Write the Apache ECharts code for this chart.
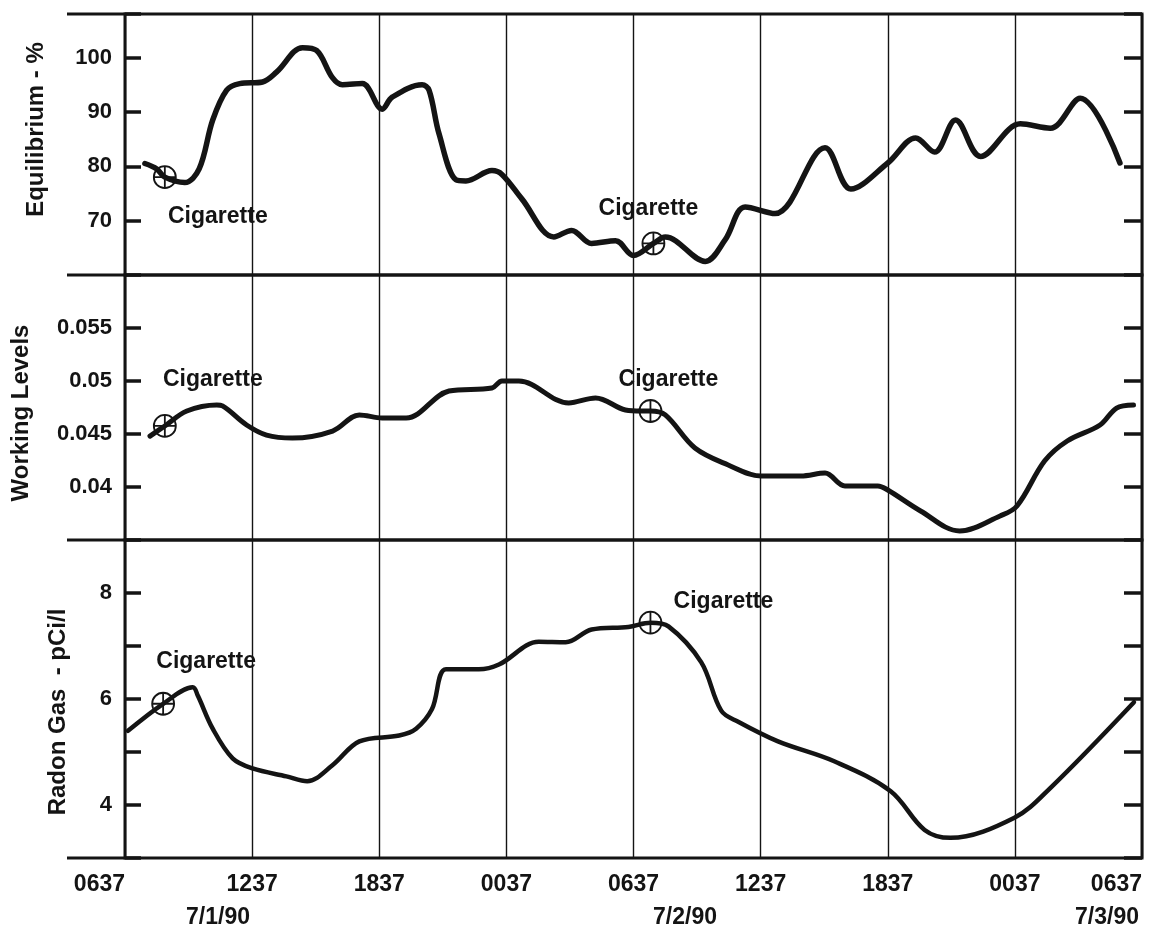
<!DOCTYPE html>
<html>
<head>
<meta charset="utf-8">
<script src="https://cdn.jsdelivr.net/npm/echarts@6/dist/echarts.min.js"></script>
<style>
html,body{margin:0;padding:0;background:#fff;}
#chart{width:1176px;height:939px;}
</style>
</head>
<body>
<div id="chart"></div>
<script>
// ---- Data (hours since 0637 on 7/1/90) ----
const xTickLabels = ['0637','1237','1837','0037','0637','1237','1837','0037','0637'];
const dateLabels = ['7/1/90','7/2/90','7/3/90'];
const eqTickLabels = ['70','80','90','100'];
const wlTickLabels = ['0.04','0.045','0.05','0.055'];
const rnTickLabels = ['4','6','8'];

const eqData = [
  [0.94,80.5],[1.5,79.5],[1.88,78],[2.82,77],[3.5,79.5],[4.14,88.5],[4.8,94],[5.41,95.2],
  [6.49,95.5],[7.15,97.3],[8.38,101.8],[9.04,101.3],[9.79,96.3],[10.26,95],[11.2,95.2],
  [12.14,90.5],[12.61,92.7],[14.02,95],[14.35,94],[14.82,86],[15.62,77.5],[16.09,77.3],
  [17.32,79.2],[17.79,78.5],[18.73,74],[20.24,67],[21.08,68.2],[22.02,65.8],[23.15,66.3],
  [24.0,63.6],[24.94,65.8],[25.5,67],[27.39,62.5],[28.33,66.5],[29.27,72.5],[30.68,71.3],
  [33.04,83.4],[34.26,75.8],[36.0,80.6],[37.32,85.2],[38.21,82.6],[39.2,88.5],[40.38,81.8],
  [42.26,87.8],[43.67,87],[45.08,92.5],[46.96,80.6]
];
const wlData = [
  [1.18,0.0448],[1.88,0.04576],[2.92,0.04717],[4.33,0.04774],[4.6,0.04765],[5.74,0.04585],
  [6.68,0.0449],[7.9,0.04462],[9.8,0.04528],[11.06,0.0468],[12.14,0.04651],[13.27,0.04651],
  [15.29,0.04906],[17.32,0.04934],[17.79,0.05],[18.59,0.05],[20.94,0.04793],[22.21,0.0484],
  [23.62,0.04727],[24.38,0.04717],[24.8,0.04717],[25.5,0.0468],[26.9,0.04368],[28.47,0.04208],
  [30.02,0.04104],[31.9,0.04104],[33.04,0.04132],[33.98,0.0401],[35.53,0.0401],[36.0,0.03972],
  [37.55,0.03774],[39.39,0.03585],[41.3,0.03727],[42.1,0.03821],[43.4,0.04245],[44.47,0.04434],
  [46.02,0.04585],[46.8,0.04745],[47.6,0.04774]
];
const rnData = [
  [0.14,5.4],[1.8,5.91],[3.2,6.22],[3.44,6.06],[4.14,5.44],[5.08,4.88],[6.02,4.69],[7.62,4.54],
  [8.6,4.45],[9.79,4.75],[11.06,5.2],[12.94,5.31],[13.74,5.44],[14.49,5.81],[15.15,6.56],
  [16.7,6.56],[17.65,6.65],[19.53,7.08],[20.8,7.07],[22.02,7.31],[23.76,7.36],[24.8,7.44],
  [25.65,7.37],[27.2,6.69],[28.14,5.78],[28.94,5.57],[30.82,5.2],[33.5,4.82],[36.14,4.26],
  [37.74,3.53],[38.96,3.38],[41.98,3.76],[43.67,4.32],[47.62,5.94]
];
const eqCig = [[1.88,78],[24.94,65.8]];
const wlCig = [[1.88,0.04576],[24.8,0.04717]];
const rnCig = [[1.8,5.91],[24.8,7.44]];

// ---- Layout / styles ----
const INK = '#141414';
const FONT = '"Liberation Sans", Arial, Helvetica, sans-serif';
const L = 125, R = 34;
const grids = [
  {left:L, right:R, top:14, height:261},
  {left:L, right:R, top:275, height:265},
  {left:L, right:R, top:540, height:318}
];
const cigLabelOffsets = [
  [[53,40],[-5,-35]],
  [[48,-46],[18,-31]],
  [[43,-42],[73,-21]]
];
const cigSymbol = 'path://M12,1A11,11,0,0,1,12,23A11,11,0,0,1,12,1ZM1,12L23,12M12,1L12,23';

function matchLabel(list, v){
  for (const s of list){ if (Math.abs(parseFloat(s) - v) < 1e-9) return s; }
  return '';
}

function xAxisFor(i){
  return {
    type:'value', gridIndex:i, min:0, max:48, interval:6,
    axisLine:{show:false}, axisTick:{show:false},
    splitLine:{show:true, lineStyle:{color:INK, width:1.4}},
    axisLabel: i===2 ? {
      show:true, margin:15, color:INK, fontFamily:FONT, fontWeight:'bold', fontSize:23,
      alignMinLabel:'right', alignMaxLabel:'right',
      formatter:(v)=> xTickLabels[Math.round(v/6)] || ''
    } : {show:false}
  };
}
function yAxisPair(i, min, max, interval, labels, name, nameGap, namePad){
  const common = {type:'value', gridIndex:i, min:min, max:max, interval:interval,
    axisLine:{show:false}, splitLine:{show:false}};
  return [
    Object.assign({}, common, {
      position:'left',
      axisTick:{show:true, inside:true, length:16, lineStyle:{color:INK, width:3.5}},
      axisLabel:{show:true, margin:13, color:INK, fontFamily:FONT, fontWeight:'bold', fontSize:22,
        formatter:(v)=>matchLabel(labels, v)},
      name:name, nameLocation:'middle', nameGap:nameGap, nameRotate:90,
      nameTextStyle:{color:INK, fontFamily:FONT, fontWeight:'bold', fontSize:24, padding:namePad}
    }),
    Object.assign({}, common, {
      position:'right',
      axisTick:{show:true, inside:true, length:18, lineStyle:{color:INK, width:3.5}},
      axisLabel:{show:false}
    })
  ];
}

const yAxes = [].concat(
  yAxisPair(0, 60, 108, 10, eqTickLabels, 'Equilibrium - %', 77, [0,0,0,30]),
  yAxisPair(1, 0.035, 0.06, 0.005, wlTickLabels, 'Working Levels', 92, [0,11,0,0]),
  yAxisPair(2, 3, 9, 1, rnTickLabels, 'Radon Gas  - pCi/l', 55, [0,26,0,0])
);

function lineSeries(i, data, width){
  return {type:'line', xAxisIndex:i, yAxisIndex:i*2, data:data, smooth:0.35,
    showSymbol:false, symbol:'none', clip:false,
    lineStyle:{color:INK, width:width, cap:'round', join:'round'}, z:3};
}
function cigSeries(i, pts){
  return {type:'scatter', xAxisIndex:i, yAxisIndex:i*2, symbol:cigSymbol, symbolSize:22,
    itemStyle:{color:'rgba(0,0,0,0)', borderColor:INK, borderWidth:1.8, opacity:1},
    z:5,
    data: pts.map((p,k)=>({value:p, label:{show:true, position:'inside', offset:cigLabelOffsets[i][k],
      formatter:'Cigarette', color:INK, opacity:1, fontFamily:FONT, fontWeight:'bold', fontSize:23}}))
  };
}

const leftExt = [14, 275, 540, 858].map(y=>({
  type:'line', shape:{x1:67, y1:y, x2:L, y2:y}, style:{stroke:INK, lineWidth:3}, z:10
}));
const dateText = [[218, dateLabels[0]],[685, dateLabels[1]],[1107, dateLabels[2]]].map(([x,t])=>({
  type:'text', x:x, y:918, style:{text:t, fill:INK, font:'bold 23px ' + FONT, textAlign:'center', textVerticalAlign:'middle'}
}));

const chart = echarts.init(document.getElementById('chart'), null, {renderer:'canvas'});
chart.setOption({
  backgroundColor:'#ffffff',
  animation:false,
  grid: grids.map(g=>Object.assign({show:true, borderColor:INK, borderWidth:3, backgroundColor:'transparent'}, g)),
  xAxis: [0,1,2].map(xAxisFor),
  yAxis: yAxes,
  series: [
    lineSeries(0, eqData, 5.5), lineSeries(1, wlData, 5), lineSeries(2, rnData, 4.5),
    cigSeries(0, eqCig), cigSeries(1, wlCig), cigSeries(2, rnCig)
  ],
  graphic: leftExt.concat(dateText)
});
</script>
</body>
</html>
